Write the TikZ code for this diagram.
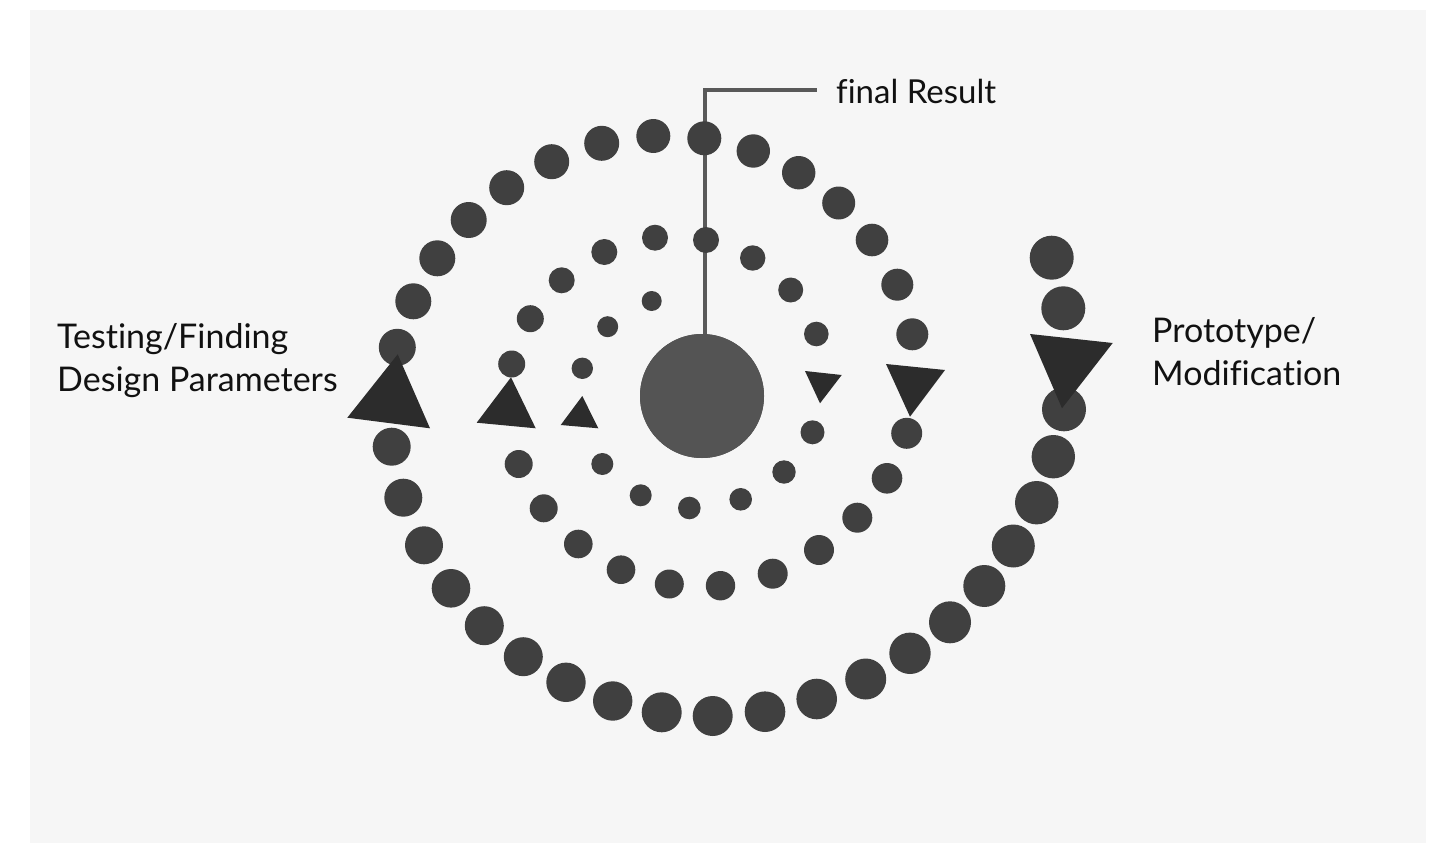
\documentclass[tikz,border=0pt]{standalone}
\usepackage{fontspec}
\setmainfont{Lato}[Ligatures=NoCommon]
\definecolor{bgc}{HTML}{F6F6F6}
\definecolor{dotc}{HTML}{404040}
\definecolor{tric}{HTML}{2C2C2C}
\definecolor{hubc}{HTML}{545454}
\definecolor{linec}{HTML}{595959}
\definecolor{txtc}{HTML}{111111}
\tikzset{
  dotmark/.style={fill=dotc},
  trimark/.style={fill=tric},
  lbl/.style={text=txtc, inner sep=0pt, font=\fontsize{34}{43}\selectfont, align=left},
  toplbl/.style={text=txtc, inner sep=0pt, font=\fontsize{33}{40}\selectfont},
  leader/.style={draw=linec, line width=4pt},
}
\begin{document}
\begin{tikzpicture}[x=1pt,y=-1pt]
\useasboundingbox (0,0) rectangle (1433,843);
\fill[white] (0,0) rectangle (1433,843);
\fill[bgc] (30,10) rectangle (1426,843);
% leader line
\node[circle, fill=hubc, minimum size=124pt, inner sep=0pt] (hub) at (702,396) {};
\coordinate (bend) at (705,90);
\coordinate (leadend) at (817,90);
\draw[leader] (hub.north -| bend) -- (bend) -- (leadend);
\fill[hubc] (702,396) circle (62);
% dots of the spiral
\foreach \px/\py/\r in {
 1051.7/257.7/22, 1063.3/308.3/22, 1064/409.3/22, 1053.3/456.7/21.7, 1036.7/502.7/21.7,
 1013.3/546/21.5, 984.3/586/21, 950/622.3/21, 910/653.3/20.7, 865.7/679/20.5,
 816.7/699/20.3, 765/711.7/20.3, 712.7/716/20, 661.7/712.3/20, 612.7/701/19.7,
 566/682.3/19.7, 523.3/656.7/19.5, 484.3/625.7/19.5, 451/588.3/19.3, 424/545.3/19,
 403.3/497.7/19, 391.7/446.7/19, 397.3/347.3/18.5, 413.3/301.3/18, 437.3/258.3/18,
 468.7/220/18, 506.7/187.7/17.5, 551.7/161.7/17.5, 601.7/143.3/17.5, 653.3/136/17,
 704.3/138.3/17, 753.3/151/16.7, 798.7/172.7/16.7, 838.7/203/16.5, 872/240/16.3,
 897.3/284.7/16, 912.3/334.3/16,
 906.7/433.3/15.5, 887/478.3/15.3, 857.3/517.7/15, 819/550/15, 772.7/573.7/15,
 720.5/585.7/14.7, 669.3/584/14.5, 621/569.7/14.3, 578.3/544/14.3, 543.7/508.3/14,
 518.7/464/14, 511.7/364/13.5, 530.3/318.7/13.5, 561.7/280.3/13, 604.3/252/13,
 655/237.7/13, 706/240/13, 752.7/258/12.7, 790.7/290/12.5, 816.3/334/12.3,
 812.5/432.3/12, 784/472/11.7, 740.7/499.3/11.3, 689.3/508/11.3, 640.7/495.3/11,
 602.3/464/11, 582.3/368.3/10.7, 607.7/326.7/10.5, 651.7/301/10}
 { \fill[dotmark] (\px,\py) circle (\r); }
% triangles
\fill[trimark] (397.7,354.3) -- (347.3,417.7) -- (430,428.3) -- cycle;
\fill[trimark] (511,377.3) -- (476.7,422.7) -- (535.7,428.3) -- cycle;
\fill[trimark] (582.3,396) -- (560.7,425) -- (598.3,428.3) -- cycle;
\fill[trimark] (1030,334) -- (1112.7,343) -- (1062,408.3) -- cycle;
\fill[trimark] (886,364) -- (945,370) -- (910,416.7) -- cycle;
\fill[trimark] (805,371) -- (841.7,375) -- (820,403.3) -- cycle;
% labels
\node[toplbl, anchor=base west] (final) at (836,103) {final Result};
\node[lbl, anchor=base west] (testing) at (57,391) {Testing/Finding\\Design Parameters};
\node[lbl, anchor=base west] (proto) at (1152,385) {Prototype/\\Modification};
\end{tikzpicture}
\end{document}
